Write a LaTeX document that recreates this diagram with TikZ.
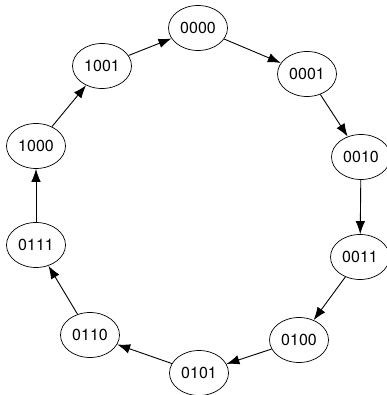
\documentclass[tikz,border=0pt]{standalone}
\usepackage{fontspec}
\setmainfont{TeX Gyre Heros}
\usepackage{tikz}
\usetikzlibrary{arrows.meta, shapes.geometric}

\begin{document}
\begin{tikzpicture}[
    x=1pt, y=-1pt,
    font=\fontsize{16}{19}\selectfont, >=Latex,
    state/.style={draw, ellipse, line width=0.7pt, inner sep=0pt,
                  minimum width=59pt, minimum height=45pt},
    arr/.style={-{Latex[length=13pt, width=9.5pt]}, line width=0.9pt}
]
\useasboundingbox (0,0) rectangle (386,395);

% Ring of states, clockwise from the top
\node[state] (s0000) at (198,28)  {0000};
\node[state] (s0001) at (307,74)  {0001};
\node[state] (s0010) at (361,157) {0010};
\node[state] (s0011) at (360,257) {0011};
\node[state] (s0100) at (299,340) {0100};
\node[state] (s0101) at (199,373) {0101};
\node[state] (s0110) at (90,335)  {0110};
\node[state] (s0111) at (36,245)  {0111};
\node[state] (s1000) at (36,146)  {1000};
\node[state] (s1001) at (102,66)  {1001};

% Transitions around the ring
\draw[arr] (s0000) -- (s0001);
\draw[arr] (s0001) -- (s0010);
\draw[arr] (s0010) -- (s0011);
\draw[arr] (s0011) -- (s0100);
\draw[arr] (s0100) -- (s0101);
\draw[arr] (s0101) -- (s0110);
\draw[arr] (s0110) -- (s0111);
\draw[arr] (s0111) -- (s1000);
\draw[arr] (s1000) -- (s1001);
\draw[arr] (s1001) -- (s0000);

\end{tikzpicture}
\end{document}
